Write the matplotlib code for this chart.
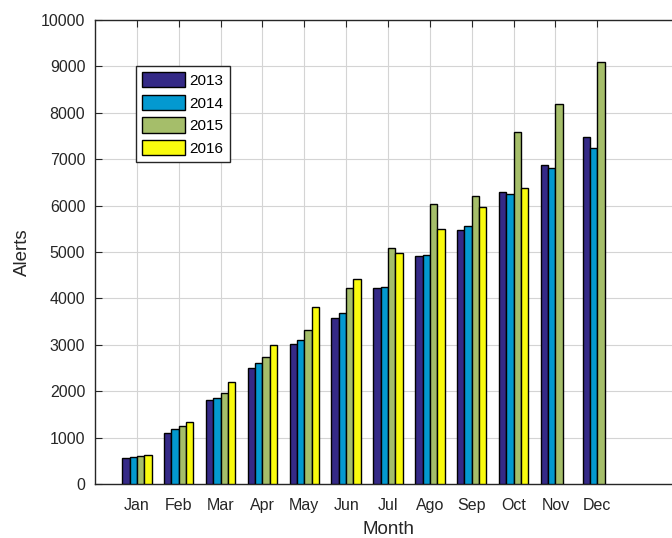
import numpy as np
import matplotlib
matplotlib.use("Agg")
import matplotlib.pyplot as plt

plt.rcParams['font.family'] = ['Liberation Sans', 'DejaVu Sans']

months = ["Jan", "Feb", "Mar", "Apr", "May", "Jun", "Jul", "Ago", "Sep", "Oct", "Nov", "Dec"]
years = ["2013", "2014", "2015", "2016"]

# alerts per month
alerts_2013 = [570, 1090, 1800, 2490, 3020, 3580, 4220, 4910, 5470, 6290, 6870, 7480]
alerts_2014 = [575, 1180, 1850, 2610, 3100, 3690, 4250, 4940, 5560, 6260, 6810, 7250]
alerts_2015 = [600, 1240, 1970, 2730, 3310, 4220, 5090, 6030, 6200, 7590, 8200, 9090]
alerts_2016 = [630, 1330, 2200, 2990, 3810, 4420, 4970, 5490, 5970, 6370]

series = [alerts_2013, alerts_2014, alerts_2015, alerts_2016]
colors = ["#352a87", "#0399d0", "#a5be6a", "#f9fb0e"]

fig = plt.figure(figsize=(6.72, 5.38), dpi=100)
ax = fig.add_axes([95 / 672, 54 / 538, 586 / 672, 464 / 538])

x = np.arange(1, len(months) + 1)
w = 0.175
for i, (vals, col, yr) in enumerate(zip(series, colors, years)):
    xs = x[:len(vals)] + (i - 1.5) * w
    ax.bar(xs, vals, width=w, color=col, edgecolor="black", linewidth=1.0,
           label=yr, zorder=3)

ax.set_xlim(0, 14)
ax.set_ylim(0, 10000)
ax.set_xticks(x)
ax.set_xticklabels(months)
ax.set_yticks(np.arange(0, 10001, 1000))

ax.grid(True, color="#d4d4d4", linewidth=0.8, zorder=0)
ax.set_axisbelow(True)
ax.tick_params(direction="in", length=5, top=True, right=True,
               labelsize=11.5, colors="#262626", labelcolor="#262626")
ax.tick_params(axis="x", pad=10)
ax.tick_params(axis="y", pad=7)
for s in ax.spines.values():
    s.set_color("#262626")
    s.set_linewidth(1.0)

ax.set_xlabel("Month", fontsize=13.5, color="#262626", labelpad=6)
ax.set_ylabel("Alerts", fontsize=13.5, color="#262626", labelpad=7)

leg = ax.legend(loc="upper left", bbox_to_anchor=(136 / 672, 1 - 66 / 538),
                bbox_transform=fig.transFigure, fontsize=11,
                handlelength=2.8, handleheight=1.15, handletextpad=0.3,
                labelspacing=0.45, borderpad=0.4, borderaxespad=0,
                fancybox=False, framealpha=1)
leg.get_frame().set_edgecolor("#262626")
leg.get_frame().set_linewidth(1.0)

fig.savefig("out.png", dpi=100)
